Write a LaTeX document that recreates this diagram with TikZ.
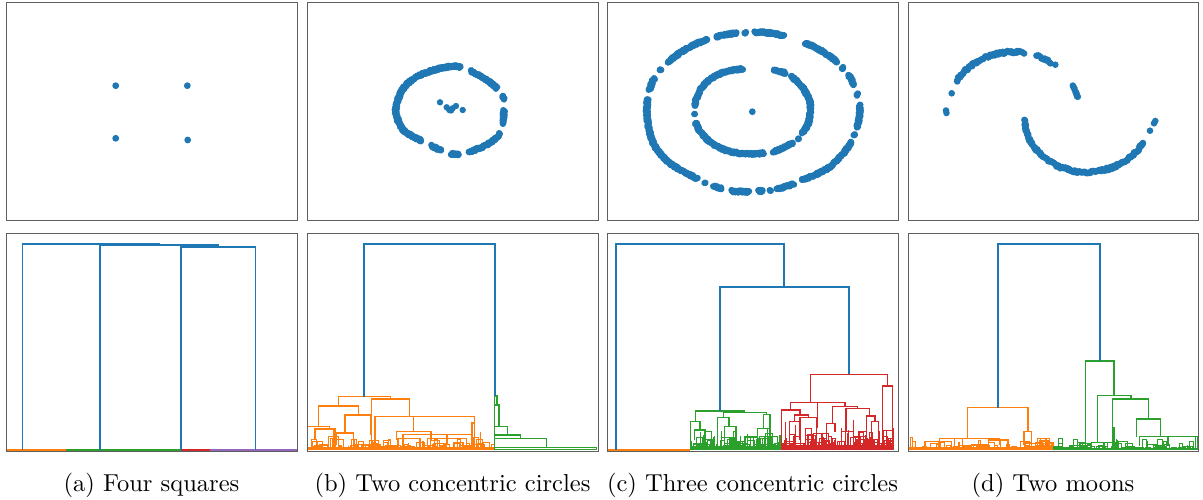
\documentclass[tikz,border=0pt]{standalone}
\usetikzlibrary{decorations.markings}
\definecolor{tb}{HTML}{1F77B4}
\definecolor{to}{HTML}{FF7F0E}
\definecolor{tg}{HTML}{2CA02C}
\definecolor{tr}{HTML}{D62728}
\definecolor{tp}{HTML}{9467BD}
\definecolor{fr}{HTML}{5F5F5F}
\tikzset{
  frame/.style={draw=fr, line width=1pt},
  dB/.style={draw=tb, line width=1.3pt},
  dO/.style={draw=to, line width=1.3pt},
  dG/.style={draw=tg, line width=1.3pt},
  dR/.style={draw=tr, line width=1.3pt},
  captext/.style={anchor=base, scale=2.45, inner sep=0pt},
  dotseg/.style 2 args={decorate, decoration={markings,
     mark=between positions #1 and #2 step 0.5pt with {\fill[tb] ({0.5*rand},{1.0*rand}) circle (3.2pt);}}},
}
\newcommand\clutter[6]{%
  \foreach \k in {1,...,#4}{%
    \pgfmathsetmacro\clA{#2+rnd*(#3-#2)}%
    \pgfmathsetmacro\clB{min(\clA+1+rnd*#6,#3)}%
    \pgfmathsetmacro\clH{449-rnd*rnd*#5}%
    \draw[#1,line width=0.9pt] (\clA,450)--(\clA,\clH)--(\clB,\clH)--(\clB,450);
  }}
\newcommand\spikes[5]{%
  \foreach \k in {1,...,#4}{%
    \pgfmathsetmacro\clA{#2+rnd*(#3-#2)}%
    \pgfmathsetmacro\clH{449-rnd*rnd*#5}%
    \draw[#1,line width=0.9pt] (\clA,450)--(\clA,\clH);
  }}
\newcommand\moonarc[6]{% cx cy rx ry from to
  \foreach \a in {#5,...,#6}
    \fill[tb] ({#1+#3*cos(\a)+0.6*rand},{#2-#4*sin(\a)+1.3*rand}) circle (3.3pt);}
\begin{document}
\begin{tikzpicture}[x=1pt,y=-1pt]
\useasboundingbox (0,0) rectangle (1203,500);
\pgfmathsetseed{12}

% ---------------- top row: scatter plots ----------------
% (a) four squares
\foreach \px/\py in {115.7/85.7, 187.3/85.7, 115.7/138.3, 187.7/140}
  \fill[tb] (\px,\py) circle (3.4pt);

% (b) two concentric circles
\foreach \s/\e in {0/0.208, 0.242/0.343, 0.377/0.39, 0.424/0.467, 0.501/0.62, 0.654/0.679, 0.713/0.751, 0.785/1}
  \path[dotseg={\s}{\e}] plot[smooth cycle] coordinates {(395.7,110) (403.3,88.3) (420,75) (443.3,67.7) (458.3,66.7) (476.7,74) (493.3,85) (503.3,96.7) (504,110) (501.7,130) (491.7,141.7) (476.7,149.3) (460,154) (446.7,152.7) (423.3,141.7) (403.3,130)};
\foreach \px/\py in {440/102.3, 446.7/107.3, 449.3/110, 452.7/108.3, 456/106, 451/110.5, 462.7/110}
  \fill[tb] (\px,\py) circle (3.2pt);

% (c) three concentric circles
\fill[tb] (752.3,111.7) circle (3.4pt);
\foreach \s/\e in {0/0.139, 0.234/0.272, 0.292/0.494, 0.513/0.517, 0.537/0.603, 0.631/0.881, 0.906/0.909, 0.934/1}
  \path[dotseg={\s}{\e}] plot[smooth cycle] coordinates {(694,108) (703,86) (722,73) (752,68) (782,72) (800,84) (810,103) (808,124) (795,141) (775,151) (752,154) (728,151) (709,141) (697,126)};
\foreach \s/\e in {0/0.010, 0.026/0.029, 0.045/0.123, 0.139/0.174, 0.188/0.191, 0.205/0.255, 0.293/0.356, 0.369/0.372, 0.386/0.405, 0.421/0.424, 0.440/0.479, 0.491/0.494, 0.506/0.614, 0.630/0.659, 0.670/0.672, 0.683/0.691, 0.707/0.737, 0.753/0.768, 0.783/0.785, 0.799/0.972, 0.988/1}
  \path[dotseg={\s}{\e}] plot[smooth cycle] coordinates {(646.7,113.3) (651.7,83.3) (666.7,63.3) (690,46.7) (716.7,36.7) (740,32.7) (766.7,32.7) (793.3,38.3) (816.7,48.3) (836.7,61.7) (851.7,80) (859.3,103.3) (858.3,123.3) (848.3,146.7) (830,166.7) (806.7,178.3) (780,188.3) (750,191.7) (726.7,190) (700,180) (670,163.3) (653.3,143.3)};

% (d) two moons
\fill[tb] (946,110.5) circle (3.3pt);
\fill[tb] (946.5,113) circle (3.3pt);
\fill[tb] (951.7,93.3) circle (3.3pt);
\moonarc{1013}{114}{67}{62}{147}{81}
\moonarc{1013}{114}{67}{62}{69}{56}
\fill[tb] (1055.3,64.7) circle (3.3pt);
\moonarc{1013}{114}{67}{62}{26}{15}
\moonarc{1087}{120}{62}{52}{180}{335}
\fill[tb] (1150,130.7) circle (3.3pt);
\fill[tb] (1154,123.3) circle (3.3pt);
\fill[tb] (1155.3,121) circle (3.3pt);

% ---------------- bottom row: dendrograms ----------------
% (a)
\draw[line width=1.6pt, to] (7,449.8) -- (66,449.8);
\draw[line width=1.6pt, tg] (66,449.8) -- (181,449.8);
\draw[line width=1.6pt, tr] (181,449.8) -- (210,449.8);
\draw[line width=1.6pt, tp] (210,449.8) -- (296.5,449.8);
\draw[dB] (22.5,450) -- (22.5,244) -- (159,244) -- (159,245);
\draw[dB] (100,450) -- (100,245) -- (218,245) -- (218,247);
\draw[dB] (181,450) -- (181,247) -- (255.5,247) -- (255.5,450);

% (b) orange cluster
\clutter{to}{307.5}{494}{120}{14}{9}
\spikes{to}{307.5}{494}{40}{18}
\fill[to] (307.5,446.5) rectangle (494,450);
\draw[dO] (338.3,406) -- (338.3,396.7) -- (390.7,396.7) -- (390.7,399);
\draw[dO] (318.3,426.7) -- (318.3,406) -- (358.3,406) -- (358.3,415);
\draw[dO] (307.6,450) -- (307.6,426.7) -- (329.3,426.7) -- (329.3,429);
\draw[dO] (315,440) -- (315,429) -- (335,429) -- (335,440);
\draw[dO] (345,433) -- (345,415) -- (370.7,415) -- (370.7,435);
\draw[dO] (336.7,445) -- (336.7,433) -- (353.3,433) -- (353.3,445);
\draw[dO] (371.7,446) -- (371.7,399) -- (409.3,399) -- (409.3,416.7);
\draw[dO] (375,446) -- (375,416.7) -- (474.3,416.7) -- (474.3,450);
\draw[dO] (413.3,416.7) -- (413.3,431.7);
\draw[dO] (396.7,440) -- (396.7,431.7) -- (431,431.7) -- (431,440);
\draw[dO] (403,445) -- (403,434.3) -- (446.7,434.3) -- (446.7,445);
\draw[dO] (398,447) -- (398,438.3) -- (420,438.3) -- (420,447);
\draw[dO] (427.7,447) -- (427.7,438.3) -- (466.7,438.3) -- (466.7,447);
\draw[dO] (447.7,445) -- (447.7,434.3) -- (472.3,434.3) -- (472.3,445);
\draw[dO] (472,450) -- (472,423) -- (474,423);
\draw[dO] (334,450) -- (334,430);
% (b) green chain
\draw[dG] (494.7,450) -- (494.7,396) -- (497,396) -- (497,405);
\draw[dG] (494.7,405) -- (499,405) -- (499,426.7);
\draw[dG] (495,426.7) -- (507.3,426.7) -- (507.3,435);
\draw[dG] (495,435) -- (520.7,435) -- (520.7,438.3);
\draw[dG] (495,438.3) -- (546.7,438.3) -- (546.7,447.3);
\draw[dG] (495,447.3) -- (596.7,447.3) -- (596.7,450);
\draw[tg, line width=1.6pt] (495,449.5) -- (597,449.5);
\draw[dB] (364,397) -- (364,244) -- (495,244) -- (495,396);

% (c)
\draw[line width=1.6pt, to] (607.5,449.8) -- (690,449.8);
\clutter{tg}{690.7}{780}{100}{20}{8}
\spikes{tg}{690.7}{780}{40}{22}
\fill[tg] (690.7,446) rectangle (780,450);
\clutter{tr}{781}{893}{120}{26}{8}
\spikes{tr}{781}{893}{70}{32}
\fill[tr] (781,445) rectangle (893,450);
% green
\draw[dG] (695.7,421.7) -- (695.7,411) -- (744,411) -- (744,412.7);
\draw[dG] (723.3,417.7) -- (723.3,412.7) -- (766.7,412.7) -- (766.7,414.3);
\draw[dG] (690.7,450) -- (690.7,421.7) -- (700,421.7) -- (700,430);
\draw[dG] (694.3,440) -- (694.3,430) -- (705,430) -- (705,440);
\draw[dG] (717.3,441.7) -- (717.3,417.7) -- (729,417.7) -- (729,426.7);
\draw[dG] (724.3,440) -- (724.3,426.7) -- (736,426.7) -- (736,440);
\draw[dG] (763.3,428.3) -- (763.3,414.3) -- (770,414.3) -- (770,450);
\draw[dG] (757.3,441) -- (757.3,428.3) -- (770,428.3);
\draw[dG] (745,445) -- (745,437) -- (757,437);
% red
\draw[dR] (810.7,402.7) -- (810.7,374.3) -- (887.3,374.3) -- (887.3,386);
\draw[dR] (790.7,410) -- (790.7,402.7) -- (845,402.7) -- (845,406.7);
\draw[dR] (781.7,450) -- (781.7,410) -- (800,410) -- (800,415);
\draw[dR] (794.3,421.7) -- (794.3,415) -- (808.3,415) -- (808.3,417.7);
\draw[dR] (789.3,440) -- (789.3,421.7) -- (799.3,421.7) -- (799.3,440);
\draw[dR] (800,440) -- (800,417.7) -- (816.7,417.7) -- (816.7,440);
\draw[dR] (832.3,423.3) -- (832.3,406.7) -- (857.7,406.7) -- (857.7,408.3);
\draw[dR] (826.7,440) -- (826.7,423.3) -- (835,423.3) -- (835,432);
\draw[dR] (846,431.7) -- (846,408.3) -- (869.3,408.3) -- (869.3,416);
\draw[dR] (841.7,445) -- (841.7,431.7) -- (853.3,431.7) -- (853.3,445);
\draw[dR] (866.7,445) -- (866.7,416) -- (875,416) -- (875,421.7);
\draw[dR] (871.7,445) -- (871.7,421.7) -- (878.3,421.7) -- (878.3,445);
\draw[dR] (882.7,445) -- (882.7,386) -- (892.3,386) -- (892.3,445);
\draw[dR] (817.7,402.7) -- (817.7,428);
% blue
\draw[dB] (616,450) -- (616,244) -- (784,244) -- (784,287);
\draw[dB] (720,411) -- (720,287) -- (849,287) -- (849,374.3);

% (d)
\clutter{to}{908.5}{1053}{100}{13}{10}
\fill[to] (908.5,446.5) rectangle (1053,450);
\clutter{tg}{1053}{1197.5}{60}{12}{10}
\spikes{tg}{1100}{1197.5}{15}{16}
\fill[tg] (1053,448) rectangle (1197.5,450);
% orange
\draw[dO] (967.3,438.3) -- (967.3,407.7) -- (1028,407.7) -- (1028,431.7);
\draw[dO] (939.3,445) -- (939.3,438.3) -- (999.3,438.3) -- (999.3,445);
\draw[dO] (1024,445) -- (1024,431.7) -- (1031.7,431.7) -- (1031.7,443.3);
\draw[dO] (1025,447) -- (1025,443.3) -- (1039.3,443.3) -- (1039.3,446.7);
\draw[dO] (1025,450) -- (1025,446.7) -- (1052.7,446.7) -- (1052.7,450);
\draw[dO] (925,447) -- (925,441.7) -- (951.7,441.7) -- (951.7,447);
\draw[dO] (988.3,447) -- (988.3,440) -- (1008.3,440) -- (1008.3,447);
% green
\draw[dG] (1085.3,443.3) -- (1085.3,361) -- (1114,361) -- (1114,395.7);
\draw[dG] (1080,450) -- (1080,443.3) -- (1090.7,443.3) -- (1090.7,450);
\draw[dG] (1097.7,442.3) -- (1097.7,395.7) -- (1131,395.7) -- (1131,399);
\draw[dG] (1091.7,450) -- (1091.7,442.3) -- (1104,442.3) -- (1104,450);
\draw[dG] (1112.7,450) -- (1112.7,399) -- (1148.7,399) -- (1148.7,419);
\draw[dG] (1136.7,437) -- (1136.7,419) -- (1160.7,419) -- (1160.7,436.7);
\draw[dG] (1139.3,446) -- (1139.3,436.7) -- (1197.7,436.7) -- (1197.7,450);
\draw[dG] (1168,436.7) -- (1168,446);
\draw[dG] (1112.7,450) -- (1112.7,427.7) -- (1114,427.7) -- (1114,450);
\draw[dG] (1055,450) -- (1055,447.7) -- (1070,447.7) -- (1070,450);
\draw[dG] (1070,449) -- (1070,445.7) -- (1090,445.7);
% blue
\draw[dB] (998,407.7) -- (998,244) -- (1100,244) -- (1100,361);

% ---------------- frames ----------------
\foreach \n/\xa/\xb in {a/6/297, b/307/598, c/607/898, d/908/1198}{
  \draw[frame] (\xa,3) rectangle (\xb,220);
  \draw[frame] (\xa,233) rectangle (\xb,451);
}

% ---------------- captions ----------------
\node[captext] (ca) at (151.5,491) {(a) Four squares};
\node[captext] (cb) at (452.5,491) {(b) Two concentric circles};
\node[captext] (cc) at (752.5,491) {(c) Three concentric circles};
\node[captext] (cd) at (1053,491) {(d) Two moons};
\end{tikzpicture}
\end{document}
